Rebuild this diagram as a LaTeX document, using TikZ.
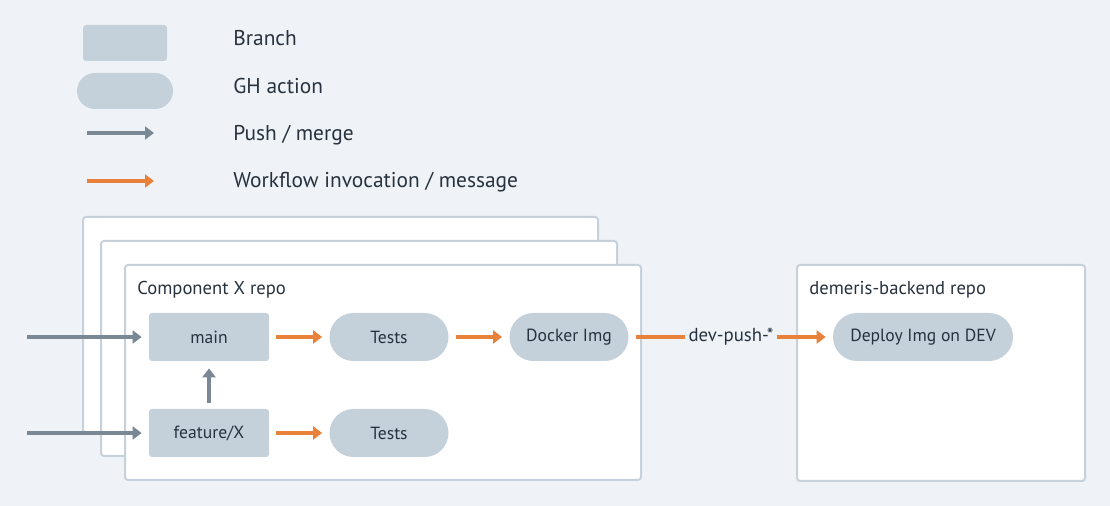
\documentclass[tikz,border=0pt]{standalone}
\usepackage{fontspec}
\setmainfont{PT Sans}
\usetikzlibrary{arrows.meta,positioning}
\definecolor{bgcol}{HTML}{EFF3F7}
\definecolor{nodecol}{HTML}{C4D0DA}
\definecolor{framecol}{HTML}{C6D1DB}
\definecolor{pushcol}{HTML}{7A8896}
\definecolor{flowcol}{HTML}{E8823A}
\definecolor{txtcol}{HTML}{27323E}
\tikzset{
  branch/.style={fill=nodecol,rounded corners=1.5pt,minimum width=60pt,minimum height=24pt,
    text=txtcol,font=\fontsize{8.8}{10}\selectfont},
  action/.style={fill=nodecol,rounded corners=12pt,minimum width=59.5pt,minimum height=24pt,
    text=txtcol,font=\fontsize{8.8}{10}\selectfont},
  repo/.style={draw=framecol,fill=white,line width=1pt,rounded corners=1.5pt},
  legtext/.style={anchor=base west,inner sep=0pt,text=txtcol,font=\fontsize{10.7}{12}\selectfont},
  repotext/.style={anchor=base west,inner sep=0pt,text=txtcol,font=\fontsize{9.3}{11}\selectfont},
  push/.style={draw=pushcol,line width=1.6pt,-{Triangle[length=4.5pt,width=6.5pt]},
    shorten <=3.5pt,shorten >=3.5pt},
  flow/.style={draw=flowcol,line width=1.6pt,-{Triangle[length=4.5pt,width=6.5pt]},
    shorten <=3.5pt,shorten >=3.5pt},
}
\begin{document}
\begin{tikzpicture}[x=0.5pt,y=-0.5pt]
\fill[bgcol] (0,0) rectangle (1110,506);
\useasboundingbox (0,0) rectangle (1110,506);
% legend
\node[branch,minimum width=42pt,minimum height=18pt] (legbranch) at (125,43) {};
\node[action,minimum width=48pt,minimum height=18pt,rounded corners=9pt] (legaction) at (125,91) {};
\coordinate (legpushA) at (87,133);
\coordinate (legpushB) at (154,133);
\coordinate (legflowA) at (87,181);
\coordinate (legflowB) at (154,181);
\draw[push,shorten <=0pt,shorten >=0pt] (legpushA) -- (legpushB);
\draw[flow,shorten <=0pt,shorten >=0pt] (legflowA) -- (legflowB);
\node[legtext] at (233,46) {Branch};
\node[legtext] at (233,94) {GH action};
\node[legtext] at (233,141) {Push / merge};
\node[legtext] at (233,188) {Workflow invocation / message};
% repos
\draw[repo] (83,217) rectangle (598,433);
\draw[repo] (101,241) rectangle (617,456);
\draw[repo] (125,265) rectangle (641,480);
\draw[repo] (797,265) rectangle (1085,481);
\node[repotext] at (137,295) {Component X repo};
\node[repotext] at (809,295) {demeris-backend repo};
% nodes
\node[branch] (main) at (209,337) {main};
\node[branch] (feature) at (209,433) {feature/X};
\node[action] (tests) at (389,337) {Tests};
\node[action] (featuretests) at (389,433) {Tests};
\node[action] (docker) at (569,337) {Docker Img};
\node[action,minimum width=90pt] (deploy) at (923,337) {Deploy Img on DEV};
\node[text=txtcol,font=\fontsize{9.4}{11}\selectfont,inner sep=1.5pt] (devpush) at (731,337) {dev-push-*};
\coordinate (inmain) at (27,337);
\coordinate (infeature) at (27,433);
% connectors
\draw[push,shorten <=0pt] (inmain) -- (main);
\draw[push,shorten <=0pt] (infeature) -- (feature);
\draw[push,shorten <=3pt] (feature) -- (main);
\draw[flow] (main) -- (tests);
\draw[flow] (feature) -- (featuretests);
\draw[flow] (tests) -- (docker);
\draw[flow,-,shorten >=0pt] (docker) -- (devpush);
\draw[flow,shorten <=0pt] (devpush) -- (deploy);
\end{tikzpicture}
\end{document}
